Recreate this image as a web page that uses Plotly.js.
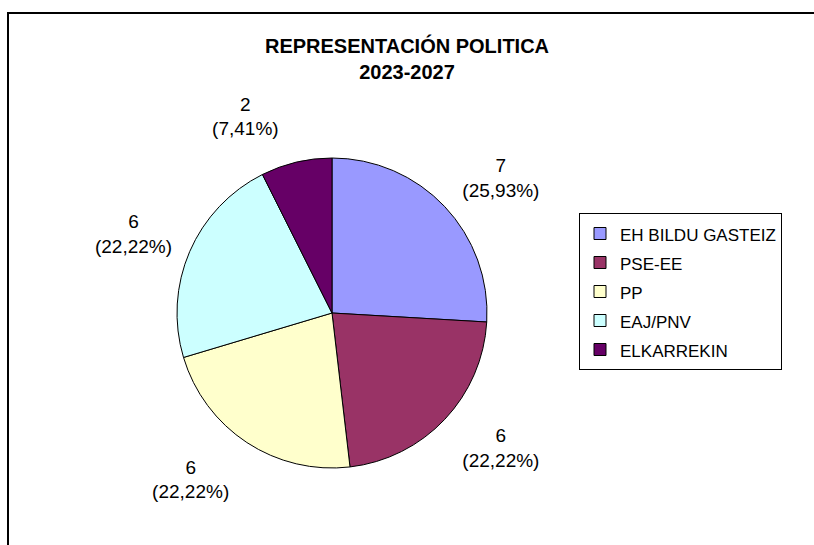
<!DOCTYPE html>
<html>
<head>
<meta charset="utf-8">
<script src="https://cdn.plot.ly/plotly-3.0.1.min.js"></script>
<style>html,body{margin:0;padding:0;background:#fff;}#chart{width:814px;height:545px;}</style>
</head>
<body>
<div id="chart"></div>
<script>
const parties = ["EH BILDU GASTEIZ", "PSE-EE", "PP", "EAJ/PNV", "ELKARREKIN"];
const seats = [7, 6, 6, 6, 2];
const colors = ["#9999FF", "#993366", "#FFFFCC", "#CCFFFF", "#660066"];
const titleLines = ["REPRESENTACIÓN POLITICA", "2023-2027"];

const W = 814, H = 545;
const cx = 332, cy = 313, r = 155;
const FONT = "Liberation Sans, Arial, sans-serif";

const legendLabels = parties.map(p => '<span style="font-size:17px">' + p + '</span>');

// spacer side for each outside label (pushes the text further from the pie)
const spacerSide = ["below", "above", "above", "below", "below"];
const core = "%{value}<br>(%{percent:.2%})";
const templates = spacerSide.map(s => s === "above" ? "\u00a0<br>" + core : core + "<br>\u00a0");

const trace = {
  type: "pie",
  labels: legendLabels,
  values: seats,
  sort: false,
  direction: "clockwise",
  rotation: 0,
  marker: {colors: colors, line: {color: "#000", width: 1}},
  textposition: "outside",
  texttemplate: templates,
  textfont: {family: FONT, size: 19, color: "#000"},
  hoverinfo: "value+percent",
  domain: {x: [(cx - r) / W, (cx + r) / W], y: [1 - (cy + r) / H, 1 - (cy - r) / H]}
};

const layout = {
  width: W, height: H,
  margin: {l: 0, r: 0, t: 0, b: 0},
  paper_bgcolor: "#fff",
  separators: ", ",
  title: {
    text: "<b>" + titleLines.join("<br>") + "</b>",
    font: {family: FONT, size: 20, color: "#000"},
    x: 0.5, xanchor: "center", y: 1 - 53 / H, yanchor: "middle", yref: "container"
  },
  showlegend: true,
  legend: {
    x: 579 / W, y: 1 - 213 / H, xanchor: "left", yanchor: "top",
    bordercolor: "#000", borderwidth: 1, bgcolor: "#fff",
    font: {family: FONT, size: 20, color: "#000"},
    traceorder: "normal"
  },
  shapes: [{
    type: "rect", xref: "paper", yref: "paper",
    x0: 8 / W, x1: 1.02, y0: -0.02, y1: 1 - 13 / H,
    line: {color: "#000", width: 2}, fillcolor: "rgba(0,0,0,0)", layer: "below"
  }]
};

Plotly.newPlot("chart", [trace], layout, {displayModeBar: false, staticPlot: true});
</script>
</body>
</html>
